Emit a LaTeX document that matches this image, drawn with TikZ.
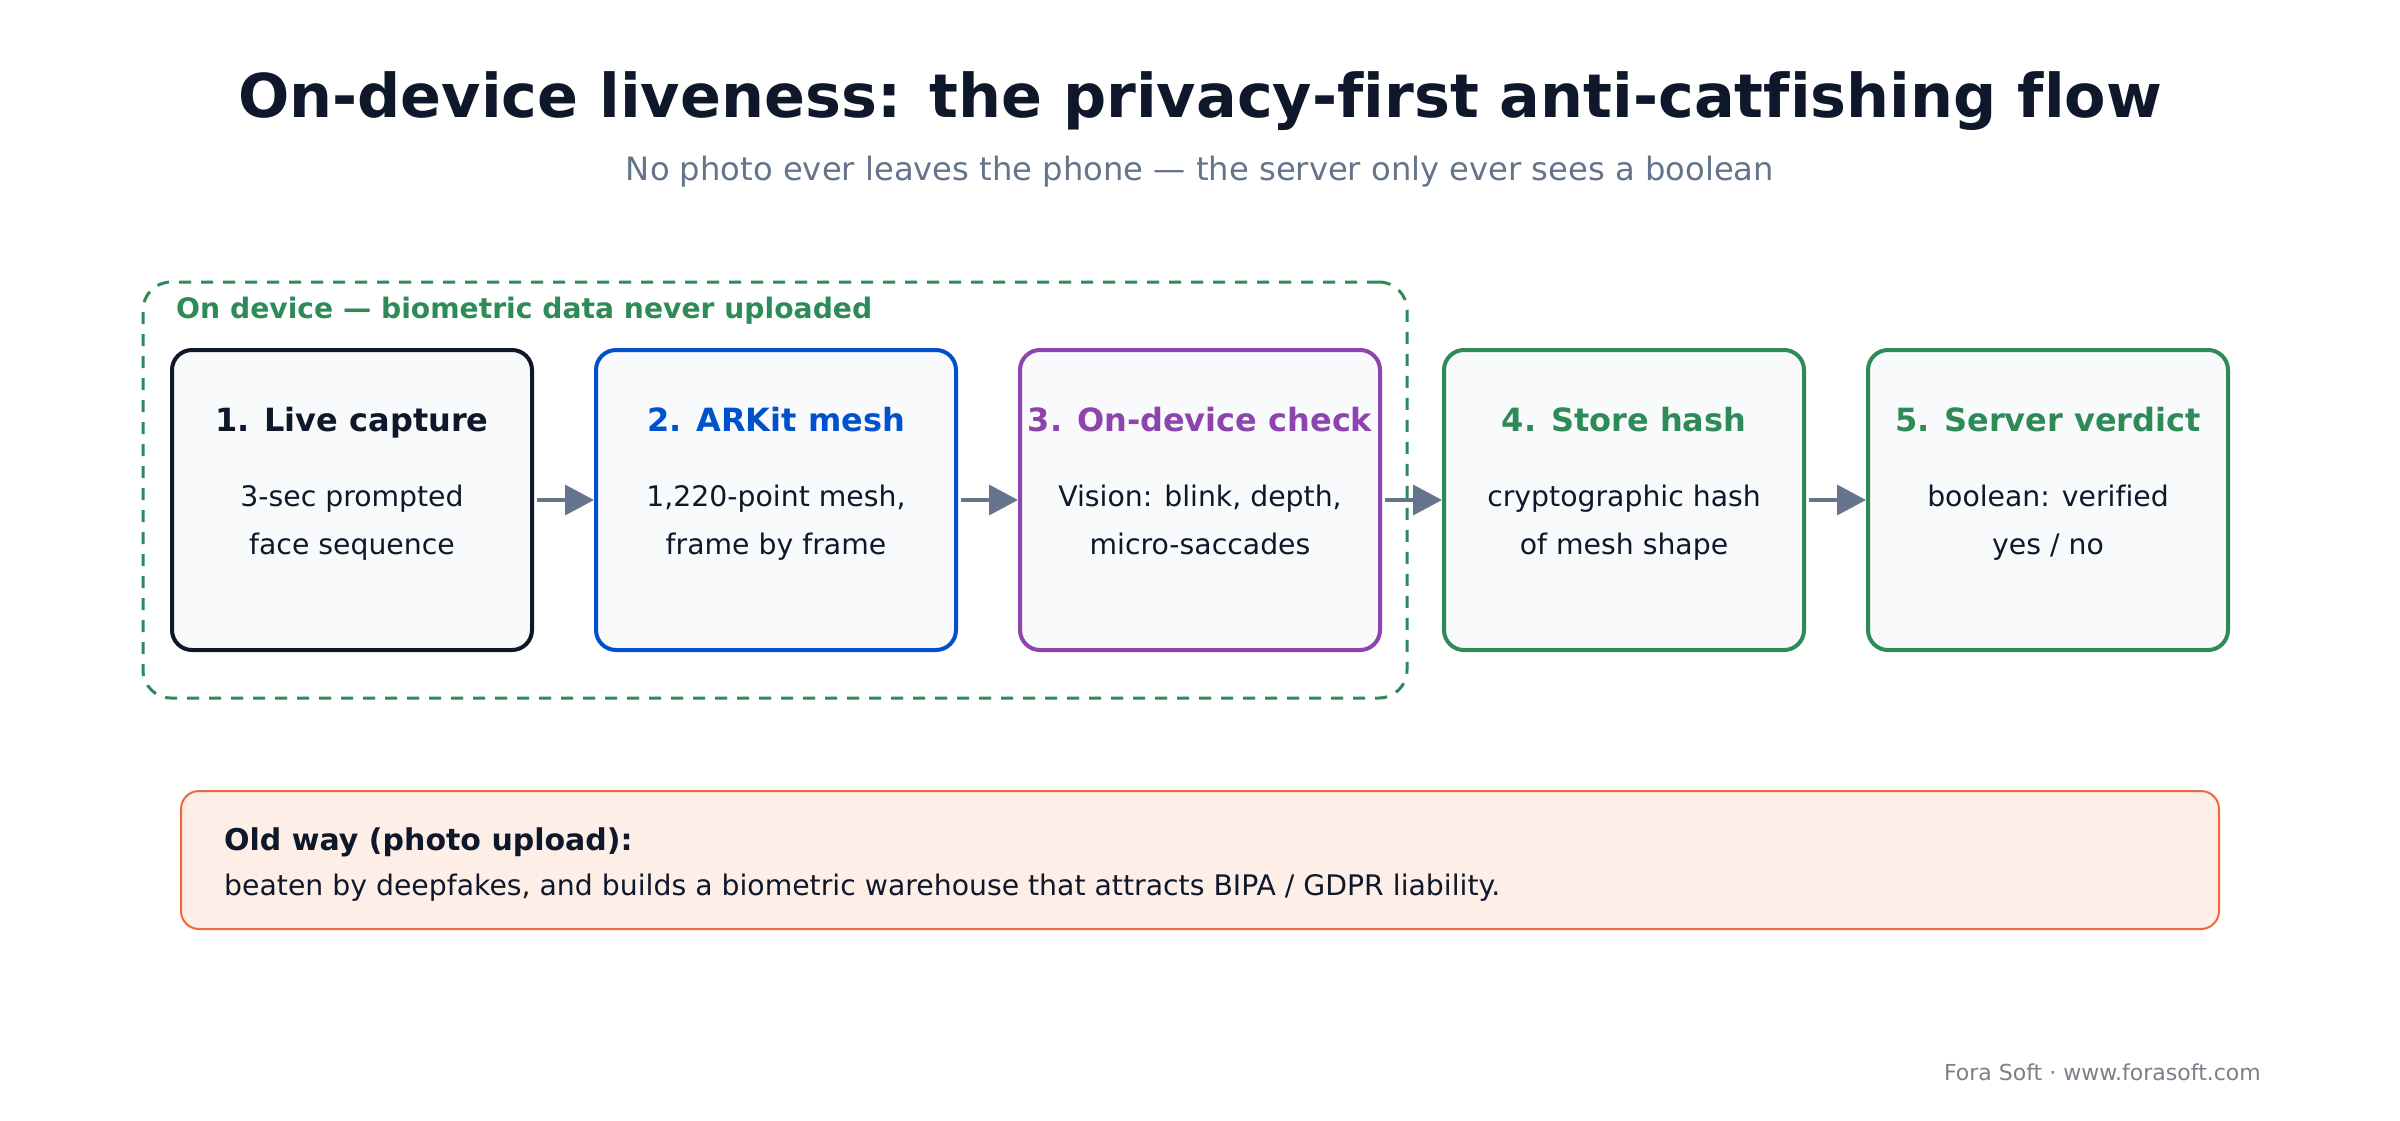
\documentclass[tikz,border=0pt]{standalone}
\usepackage{fontspec}
\setmainfont{DejaVu Sans}[Ligatures=NoCommon]
\usetikzlibrary{arrows.meta}
\definecolor{ink}{HTML}{0F172A}
\definecolor{slate}{HTML}{64748B}
\definecolor{footgrey}{HTML}{7A7F8A}
\definecolor{boxfill}{HTML}{F8FAFC}
\definecolor{cblue}{HTML}{0052CC}
\definecolor{cpurple}{HTML}{8E44AD}
\definecolor{cgreen}{HTML}{2E8B57}
\definecolor{warnfill}{HTML}{FDEEE8}
\definecolor{warnline}{HTML}{EE6A3C}
\tikzset{
  stepbox/.style={draw=#1, fill=boxfill, line width=4pt, rounded corners=20pt,
    minimum width=360pt, minimum height=300pt, inner sep=0pt},
  steptitle/.style={anchor=base, text=#1, font=\fontsize{32}{38}\selectfont\bfseries, inner sep=0pt},
  stepbody/.style={anchor=base, text=ink, font=\fontsize{28.3}{34}\selectfont, inner sep=0pt},
  flowarrow/.style={draw=slate, line width=3.5pt, -{Triangle[length=29pt,width=30pt]}},
}
\begin{document}
\begin{tikzpicture}[x=1pt,y=-1pt]
\useasboundingbox[fill=white] (0,0) rectangle (2400,1120);

% title
\node[anchor=base, text=ink, font=\fontsize{60.4}{70}\selectfont\bfseries, inner sep=0pt] (title) at (1200,117) {On-device liveness: the privacy-first anti-catfishing flow};
\node[anchor=base, text=slate, font=\fontsize{32.2}{38}\selectfont, inner sep=0pt] (subtitle) at (1200,180) {No photo ever leaves the phone — the server only ever sees a boolean};

% on-device container
\node[draw=cgreen, line width=3pt, dash pattern=on 12pt off 10pt, rounded corners=28pt,
  minimum width=1264pt, minimum height=416pt, inner sep=0pt] (device) at (775,490) {};
\node[anchor=base west, text=cgreen, font=\fontsize{28.2}{34}\selectfont\bfseries, inner sep=0pt] (devicelabel) at (176,318) {On device — biometric data never uploaded};

% step boxes
\node[stepbox=ink] (b1) at (352,500) {};
\node[stepbox=cblue] (b2) at (776,500) {};
\node[stepbox=cpurple] (b3) at (1200,500) {};
\node[stepbox=cgreen] (b4) at (1624,500) {};
\node[stepbox=cgreen] (b5) at (2048,500) {};

\node[steptitle=ink] (t1) at (352,431) {1. Live capture};
\node[stepbody] (l1a) at (352,506) {3-sec prompted};
\node[stepbody] (l1b) at (352,554) {face sequence};

\node[steptitle=cblue] (t2) at (776,431) {2. ARKit mesh};
\node[stepbody] (l2a) at (776,506) {1,220-point mesh,};
\node[stepbody] (l2b) at (776,554) {frame by frame};

\node[steptitle=cpurple] (t3) at (1200,431) {3. On-device check};
\node[stepbody] (l3a) at (1200,506) {Vision: blink, depth,};
\node[stepbody] (l3b) at (1200,554) {micro-saccades};

\node[steptitle=cgreen] (t4) at (1624,431) {4. Store hash};
\node[stepbody] (l4a) at (1624,506) {cryptographic hash};
\node[stepbody] (l4b) at (1624,554) {of mesh shape};

\node[steptitle=cgreen] (t5) at (2048,431) {5. Server verdict};
\node[stepbody] (l5a) at (2048,506) {boolean: verified};
\node[stepbody] (l5b) at (2048,554) {yes / no};

% arrows
\draw[flowarrow] ([xshift=3pt]b1.east) -- (b2.west);
\draw[flowarrow] ([xshift=3pt]b2.east) -- (b3.west);
\draw[flowarrow] ([xshift=3pt]b3.east) -- (b4.west);
\draw[flowarrow] ([xshift=3pt]b4.east) -- (b5.west);

% old way box
\node[draw=warnline, fill=warnfill, line width=2pt, rounded corners=18pt,
  minimum width=2038pt, minimum height=138pt, inner sep=0pt] (oldway) at (1200,860) {};
\node[anchor=base west, text=ink, font=\fontsize{30}{36}\selectfont\bfseries, inner sep=0pt] (oldtitle) at (224,850) {Old way (photo upload):};
\node[anchor=base west, text=ink, font=\fontsize{28.3}{34}\selectfont, inner sep=0pt] (oldbody) at (224,895) {beaten by deepfakes, and builds a biometric warehouse that attracts BIPA / GDPR liability.};

% footer
\node[anchor=base east, text=footgrey, font=\fontsize{22}{26}\selectfont, inner sep=0pt] (footer) at (2261,1080) {Fora Soft · www.forasoft.com};
\end{tikzpicture}
\end{document}
